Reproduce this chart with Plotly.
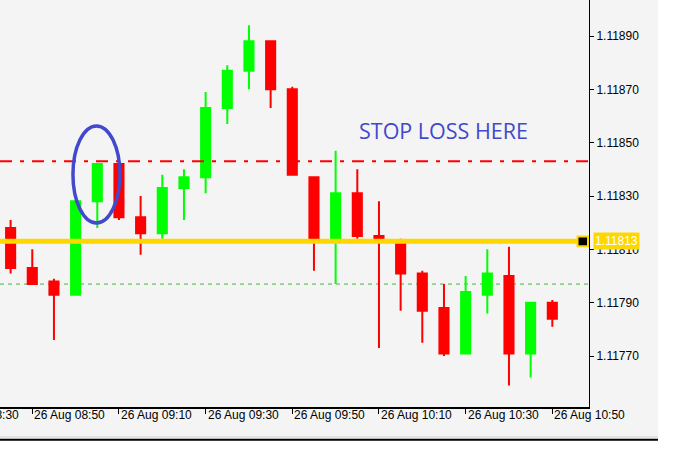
import plotly.graph_objects as go
import pandas as pd

# ---- data ----
day = "2019-08-26"
times = ["08:45", "08:50", "08:55", "09:00", "09:05", "09:10", "09:15", "09:20", "09:25",
         "09:30", "09:35", "09:40", "09:45", "09:50", "09:55", "10:00", "10:05", "10:10",
         "10:15", "10:20", "10:25", "10:30", "10:35", "10:40", "10:45", "10:50"]
opens = [1.11818, 1.11803, 1.11798, 1.11793, 1.11828, 1.11842, 1.11822, 1.11816, 1.11833,
         1.11837, 1.11863, 1.11877, 1.11888, 1.11870, 1.11837, 1.11814, 1.11831, 1.11815,
         1.11813, 1.11801, 1.11788, 1.11771, 1.11793, 1.11800, 1.11771, 1.11790]
highs = [1.11821, 1.11810, 1.11799, 1.11828, 1.11842, 1.11842, 1.11830, 1.11838, 1.11840,
         1.11869, 1.11879, 1.11894, 1.11888, 1.11871, 1.11837, 1.11847, 1.11840, 1.11828,
         1.11814, 1.11802, 1.11797, 1.11800, 1.11810, 1.11811, 1.11790, 1.11791]
lows = [1.11801, 1.11797, 1.11776, 1.11793, 1.11818, 1.11821, 1.11808, 1.11814, 1.11821,
        1.11831, 1.11857, 1.11870, 1.11863, 1.11838, 1.11802, 1.11797, 1.11814, 1.11773,
        1.11787, 1.11775, 1.11770, 1.11771, 1.11786, 1.11759, 1.11762, 1.11781]
closes = [1.11803, 1.11797, 1.11793, 1.11828, 1.11842, 1.11822, 1.11816, 1.11833, 1.11837,
          1.11863, 1.11877, 1.11888, 1.11870, 1.11838, 1.11814, 1.11831, 1.11815, 1.11813,
          1.11801, 1.11787, 1.11771, 1.11794, 1.11801, 1.11771, 1.11790, 1.11784]

price_ticks = [1.11770, 1.11790, 1.11810, 1.11830, 1.11850, 1.11870, 1.11890]
time_ticks = ["08:30", "08:50", "09:10", "09:30", "09:50", "10:10", "10:30", "10:50"]

stop_loss_level = 1.11843
current_level = 1.11813
bid_level = 1.11797
note_text = "STOP LOSS HERE"

x_start = pd.Timestamp(f"{day} 08:42:33")
x_end = pd.Timestamp(f"{day} 10:58:28")
y_min, y_max = 1.117509, 1.119035

xs = [pd.Timestamp(f"{day} {t}") for t in times]

fig = go.Figure()
fig.add_trace(go.Candlestick(
    x=xs, open=opens, high=highs, low=lows, close=closes,
    increasing=dict(fillcolor="#00ff00", line=dict(color="#00ff00", width=2)),
    decreasing=dict(fillcolor="#ff0000", line=dict(color="#ff0000", width=2)),
    whiskerwidth=0, showlegend=False, hoverinfo="skip",
))

def paper_x(ts):
    return (ts - x_start) / (x_end - x_start)

shapes = []
# outer frame decoration (below plot area)
shapes.append(dict(type="rect", xref="paper", yref="paper", x0=658 / 589, x1=1.3, y0=-0.3, y1=1.2,
                   fillcolor="white", line_width=0, layer="below"))
shapes.append(dict(type="rect", xref="paper", yref="paper", x0=-0.1, x1=1.3, y0=-0.3, y1=1 - 440.7 / 407,
                   fillcolor="white", line_width=0, layer="below"))
shapes.append(dict(type="rect", xref="paper", yref="paper", x0=-0.1, x1=658 / 589,
                   y0=1 - 437.8 / 407, y1=1 - 436 / 407, fillcolor="#e2e2e2", line_width=0, layer="below"))
shapes.append(dict(type="rect", xref="paper", yref="paper", x0=-0.1, x1=658 / 589,
                   y0=1 - 440.7 / 407, y1=1 - 438.7 / 407, fillcolor="#000000", line_width=0, layer="below"))
# horizontal levels
shapes.append(dict(type="line", xref="paper", yref="y", x0=0, x1=1, y0=bid_level, y1=bid_level,
                   line=dict(color="#3cba3c", width=1, dash="4px,4px"), layer="below"))
shapes.append(dict(type="line", xref="paper", yref="y", x0=0, x1=1, y0=stop_loss_level, y1=stop_loss_level,
                   line=dict(color="#ff0000", width=2, dash="12px,8px,4px,8px")))
shapes.append(dict(type="line", xref="paper", yref="y", x0=0, x1=0.985, y0=current_level, y1=current_level,
                   line=dict(color="#ffd700", width=5)))
shapes.append(dict(type="rect", xref="paper", yref="y", x0=577.5 / 589, x1=588 / 589,
                   y0=current_level - 0.0000185, y1=current_level + 0.0000185,
                   fillcolor="#000000", line=dict(color="#ffd700", width=2)))
# ellipse highlight
shapes.append(dict(type="circle", xref="x", yref="y",
                   x0=pd.Timestamp(f"{day} 08:59:23"), x1=pd.Timestamp(f"{day} 09:10:14"),
                   y0=1.118199, y1=1.118563,
                   line=dict(color="#4249cc", width=3.5)))

annotations = []
for t in time_ticks:
    ts = pd.Timestamp(f"{day} {t}")
    annotations.append(dict(xref="paper", yref="paper", x=paper_x(ts), y=1 - 415 / 407,
                            xanchor="left", yanchor="middle", xshift=0, showarrow=False,
                            text=f"26 Aug {t}",
                            font=dict(family="Liberation Sans, Arial", size=12, color="black")))
annotations.append(dict(xref="paper", yref="y", x=1, y=current_level, xanchor="left", yanchor="middle",
                        xshift=4, showarrow=False, text=f"{current_level:.5f}", bgcolor="#ffd700",
                        borderpad=1, font=dict(family="Liberation Sans, Arial", size=12, color="white")))
annotations.append(dict(xref="x", yref="y", x=pd.Timestamp(f"{day} 10:25:00"), y=1.118546,
                        xanchor="center", yanchor="middle", showarrow=False, text=note_text,
                        font=dict(family="Open Sans", size=21.5, color="#4249cc")))

fig.update_layout(
    width=677, height=461,
    margin=dict(l=0, r=88, t=0, b=54),
    paper_bgcolor="#f4f4f4", plot_bgcolor="#f4f4f4",
    boxgap=0.4,
    hovermode=False,
    shapes=shapes, annotations=annotations,
    xaxis=dict(
        type="date", range=[x_start, x_end], rangeslider=dict(visible=False),
        showgrid=False, zeroline=False, showline=True, linecolor="black", linewidth=2,
        ticks="outside", ticklen=5, tickcolor="black", tickwidth=1,
        tickvals=[pd.Timestamp(f"{day} {t}") for t in time_ticks], showticklabels=False,
    ),
    yaxis=dict(
        side="right", range=[y_min, y_max], showgrid=False, zeroline=False,
        showline=True, linecolor="black", linewidth=1,
        ticks="outside", ticklen=4, tickcolor="black", tickwidth=1,
        tickvals=price_ticks, ticktext=[f"{v:.5f}" for v in price_ticks],
        tickfont=dict(family="Liberation Sans, Arial", size=12, color="black"),
    ),
)

fig.write_html("out.html", config={"displayModeBar": False},
               post_script="document.body.style.margin='0';document.body.style.padding='0';")
